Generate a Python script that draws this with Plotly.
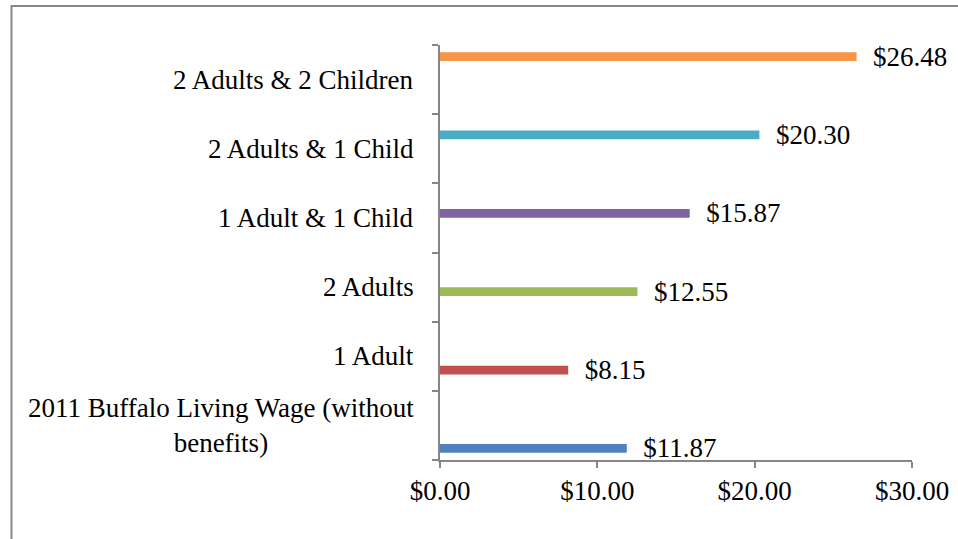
import plotly.graph_objects as go

categories = ["2011 Buffalo Living Wage (without benefits)", "1 Adult", "2 Adults",
              "1 Adult & 1 Child", "2 Adults & 1 Child", "2 Adults & 2 Children"]
label_text = ["2011 Buffalo Living Wage (without<br>benefits)", "1 Adult", "2 Adults",
              "1 Adult & 1 Child", "2 Adults & 1 Child", "2 Adults & 2 Children"]
values = [11.87, 8.15, 12.55, 15.87, 20.30, 26.48]
colors = ["#4F81BD", "#C0504D", "#9BBB59", "#8064A2", "#4BACC6", "#F79646"]
x_ticks = [0, 10, 20, 30]
x_tick_text = ["$0.00", "$10.00", "$20.00", "$30.00"]

FONT = "Liberation Serif"
FS = 27
W, H = 958, 539
ML, MR, MT, MB = 440, 46, 45, 79

fig = go.Figure()
for i, (cat, val, col) in enumerate(zip(categories, values, colors)):
    fig.add_trace(go.Bar(
        y=[cat], x=[val], orientation="h", offsetgroup=str(i),
        marker=dict(color=col, line=dict(width=0)),
        text=["\u2002$%.2f" % val], textposition="outside",
        textfont=dict(family=FONT, size=FS, color="black"),
        constraintext="none", cliponaxis=False, showlegend=False,
    ))

annotations = []
for cat, lab in zip(categories, label_text):
    annotations.append(dict(
        x=0, xref="paper", y=cat, yref="y", text=lab, showarrow=False,
        xanchor="right", yanchor="middle", align="center", xshift=-24,
        font=dict(family=FONT, size=FS, color="black"),
    ))

pw, ph = W - ML - MR, H - MT - MB
def px2x(p):
    return (p - ML) / pw
def py2y(p):
    return (H - MB - p) / ph

fig.update_layout(
    width=W, height=H,
    margin=dict(l=ML, r=MR, t=MT, b=MB, autoexpand=False),
    paper_bgcolor="white", plot_bgcolor="white",
    barmode="group", bargap=0.2, bargroupgap=0.05,
    annotations=annotations,
    shapes=[dict(type="rect", xref="paper", yref="paper",
                 x0=px2x(11.5), x1=px2x(970), y0=py2y(560), y1=py2y(6),
                 line=dict(color="#888888", width=2), fillcolor="rgba(0,0,0,0)", layer="below")],
    xaxis=dict(range=[0, 30], tickvals=x_ticks, ticktext=x_tick_text, automargin=False,
               showgrid=False, zeroline=False, showline=True, linecolor="#868686", linewidth=1.5,
               ticks="outside", ticklen=6, tickcolor="#868686", tickwidth=1.5,
               tickfont=dict(family=FONT, size=FS, color="black")),
    yaxis=dict(type="category", categoryorder="array", categoryarray=categories, automargin=False,
               range=[-0.5, 5.5], showgrid=False, zeroline=False, showline=True,
               linecolor="#868686", linewidth=1.5, ticks="outside", ticklen=6,
               tickcolor="#868686", tickwidth=1.5, tickson="boundaries", showticklabels=False),
)

fig.write_html("out.html")
